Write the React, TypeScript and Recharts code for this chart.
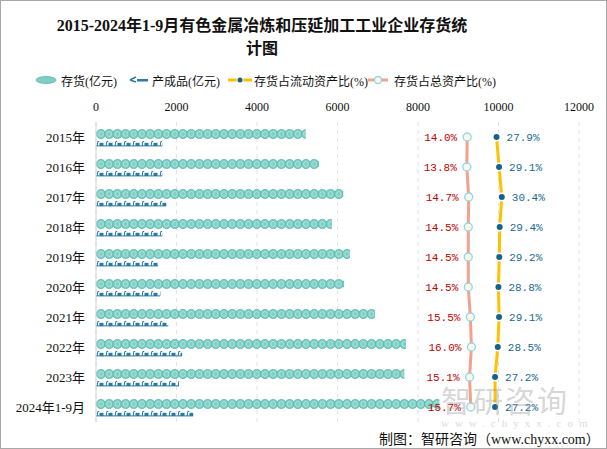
import React from "react";
import { ComposedChart, Bar, Line, XAxis, YAxis, CartesianGrid, LabelList } from "recharts";

const years = ["2015年", "2016年", "2017年", "2018年", "2019年", "2020年", "2021年", "2022年", "2023年", "2024年1-9月"];
const inventory = [5210, 5540, 6140, 5860, 6310, 6160, 6930, 7700, 7660, 8530];
const finishedGoods = [1650, 1650, 1750, 1650, 1550, 1600, 1800, 2140, 2070, 2420];
const currentRatio = [27.9, 29.1, 30.4, 29.4, 29.2, 28.8, 29.1, 28.5, 27.2, 27.2];
const totalRatio = [14.0, 13.8, 14.7, 14.5, 14.5, 14.5, 15.5, 16.0, 15.1, 15.7];
const xTicks = [0, 2000, 4000, 6000, 8000, 10000, 12000];

const data = years.map((year, i) => ({
  year,
  inventory: inventory[i],
  finished: finishedGoods[i],
  current: currentRatio[i],
  total: totalRatio[i],
}));

const SERIF = '"Liberation Serif", "DejaVu Serif", "Noto Sans CJK SC", serif';
const MONO = '"Liberation Mono", "DejaVu Sans Mono", monospace';

const CoinBar = (props: any) => {
  const { x, y, width, height, index } = props;
  if (!width || width <= 0) return null;
  const r = height / 2;
  const step = 8.2;
  const n = Math.ceil(width / step);
  const cy = y + r;
  const id = `coin-clip-${index}`;
  const coins = [];
  for (let i = 0; i < n; i++) {
    const cx = x + r + i * step;
    coins.push(
      <g key={i}>
        <circle cx={cx} cy={cy} r={r - 0.4} fill="#7fcfc5" stroke="#55b5aa" strokeWidth={0.8} />
        <circle cx={cx} cy={cy} r={r - 2.6} fill="none" stroke="#b4e6df" strokeWidth={0.8} />
      </g>
    );
  }
  return (
    <g>
      <defs>
        <clipPath id={id}>
          <rect x={x} y={y - 1} width={width} height={height + 2} />
        </clipPath>
      </defs>
      <g clipPath={`url(#${id})`}>{coins}</g>
    </g>
  );
};

const GoodsBar = (props: any) => {
  const { x, y, width, height, index } = props;
  if (!width || width <= 0) return null;
  const step = 9;
  const n = Math.ceil(width / step);
  const id = `goods-clip-${index}`;
  const marks = [];
  for (let i = 0; i < n; i++) {
    const mx = x + i * step;
    marks.push(
      <g key={i}>
        <path d={`M${mx + 1.2},${y + height} L${mx + 1.8},${y + 0.5} L${mx + 3.2},${y + 0.5}`} stroke="#2a7aa2" strokeWidth={1} fill="none" />
        <rect x={mx + 3.5} y={y + 1.8} width={4} height={height - 1.8} fill="#2a7aa2" />
      </g>
    );
  }
  return (
    <g>
      <defs>
        <clipPath id={id}>
          <rect x={x} y={y - 1} width={width} height={height + 2} />
        </clipPath>
      </defs>
      <g clipPath={`url(#${id})`}>
        {marks}
        <rect x={x} y={y + height - 0.6} width={width} height={1} fill="#2a7aa2" />
      </g>
    </g>
  );
};

const CurrentDot = (props: any) => {
  const { cx, cy } = props;
  return <circle cx={cx} cy={cy} r={3} fill="#15638b" stroke="#fff" strokeWidth={3} paintOrder="stroke" />;
};

const TotalDot = (props: any) => {
  const { cx, cy } = props;
  return <circle cx={cx} cy={cy} r={4} fill="#fcf8e3" stroke="#8fd4f2" strokeWidth={1.3} />;
};

const legendText: React.CSSProperties = { position: "absolute", top: 71, fontSize: 12, fontFamily: SERIF, color: "#111", whiteSpace: "nowrap" };

export default function App() {
  return (
    <div style={{ position: "absolute", left: 0, top: 0, width: 607, height: 449, background: "#fff", boxSizing: "border-box", border: "1px solid #a8a8a8", overflow: "hidden" }}>
      <div style={{ position: "absolute", left: 0, top: 13, width: 522, textAlign: "center", fontFamily: SERIF, fontWeight: "bold", fontSize: 16, lineHeight: "23px", color: "#111" }}>
        2015-2024年1-9月有色金属冶炼和压延加工工业企业存货统<br />计图
      </div>

      <svg style={{ position: "absolute", left: 34, top: 73 }} width={22} height={12}>
        <ellipse cx={11} cy={6} rx={10} ry={3.5} fill="#7fcfc5" stroke="#55b5aa" strokeWidth={0.8} />
      </svg>
      <div style={{ ...legendText, left: 60 }}>存货(亿元)</div>
      <svg style={{ position: "absolute", left: 127, top: 73 }} width={22} height={12}>
        <path d="M2,6 L8,3 M2,6 L8,8" stroke="#2a7aa2" strokeWidth={1.5} fill="none" />
        <rect x={9} y={5} width={11} height={2.5} fill="#2a7aa2" />
      </svg>
      <div style={{ ...legendText, left: 151 }}>产成品(亿元)</div>
      <svg style={{ position: "absolute", left: 226, top: 73 }} width={26} height={12}>
        <line x1={1} y1={6} x2={25} y2={6} stroke="#ffc000" strokeWidth={3} />
        <circle cx={13} cy={6} r={2.5} fill="#15638b" stroke="#fff" strokeWidth={2} paintOrder="stroke" />
      </svg>
      <div style={{ ...legendText, left: 253 }}>存货占流动资产比(%)</div>
      <svg style={{ position: "absolute", left: 366, top: 73 }} width={22} height={12}>
        <line x1={1} y1={6} x2={21} y2={6} stroke="#f2a28a" strokeWidth={3} />
        <circle cx={11} cy={6} r={3.5} fill="#fcf8e3" stroke="#8fd4f2" strokeWidth={1.3} />
      </svg>
      <div style={{ ...legendText, left: 393 }}>存货占总资产比(%)</div>

      <div style={{ position: "absolute", left: 0, top: 0 }}>
        <ComposedChart
          width={605}
          height={447}
          data={data}
          layout="vertical"
          margin={{ top: 100, right: 27, bottom: 26, left: 0 }}
          barGap={2}
          barCategoryGap={0}
        >
          <CartesianGrid horizontal={false} stroke="#e3e3e3" strokeDasharray="4 4" />
          <XAxis
            type="number"
            orientation="top"
            domain={[0, 12000]}
            ticks={xTicks}
            height={21}
            axisLine={false}
            tickLine={false}
            tickMargin={5}
            tick={{ fontSize: 12, fontFamily: SERIF, fill: "#111" }}
          />
          <XAxis xAxisId="pct" type="number" domain={[-162, 67]} hide />
          <YAxis
            type="category"
            dataKey="year"
            width={95}
            tickLine={false}
            axisLine={{ stroke: "#d4d4d4" }}
            tickMargin={5}
            tick={{ fontSize: 13, fontFamily: SERIF, fill: "#111" }}
          />
          <Bar dataKey="inventory" name="存货(亿元)" barSize={10} shape={<CoinBar />} isAnimationActive={false} />
          <Bar dataKey="finished" name="产成品(亿元)" barSize={5} shape={<GoodsBar />} isAnimationActive={false} />
          <Line
            xAxisId="pct"
            dataKey="total"
            name="存货占总资产比(%)"
            type="linear"
            stroke="#f2a28a"
            strokeWidth={3}
            dot={<TotalDot />}
            activeDot={false}
            isAnimationActive={false}
          >
            <LabelList dataKey="total" position="left" offset={10} formatter={(v: any) => `${Number(v).toFixed(1)}%`} style={{ fill: "#c00000", fontSize: 11, fontFamily: MONO }} />
          </Line>
          <Line
            xAxisId="pct"
            dataKey="current"
            name="存货占流动资产比(%)"
            type="linear"
            stroke="#ffc000"
            strokeWidth={3}
            dot={<CurrentDot />}
            activeDot={false}
            isAnimationActive={false}
          >
            <LabelList dataKey="current" position="right" offset={10} formatter={(v: any) => `${Number(v).toFixed(1)}%`} style={{ fill: "#1b6a92", fontSize: 11, fontFamily: MONO }} />
          </Line>
        </ComposedChart>
      </div>

      <div style={{ position: "absolute", left: 440, top: 376, fontSize: 30, fontFamily: '"Noto Sans CJK SC", sans-serif', color: "rgba(150,150,150,0.4)", letterSpacing: 2, whiteSpace: "nowrap", pointerEvents: "none" }}>
        智研咨询
      </div>
      <div style={{ position: "absolute", left: 440, top: 416, fontSize: 11, fontFamily: SERIF, color: "rgba(160,160,160,0.4)", letterSpacing: 6, whiteSpace: "nowrap", pointerEvents: "none" }}>
        www.chyxx.com
      </div>

      <div style={{ position: "absolute", left: 378, top: 427, fontSize: 14, fontFamily: SERIF, color: "#111", whiteSpace: "nowrap" }}>
        制图：智研咨询（www.chyxx.com）
      </div>
    </div>
  );
}
